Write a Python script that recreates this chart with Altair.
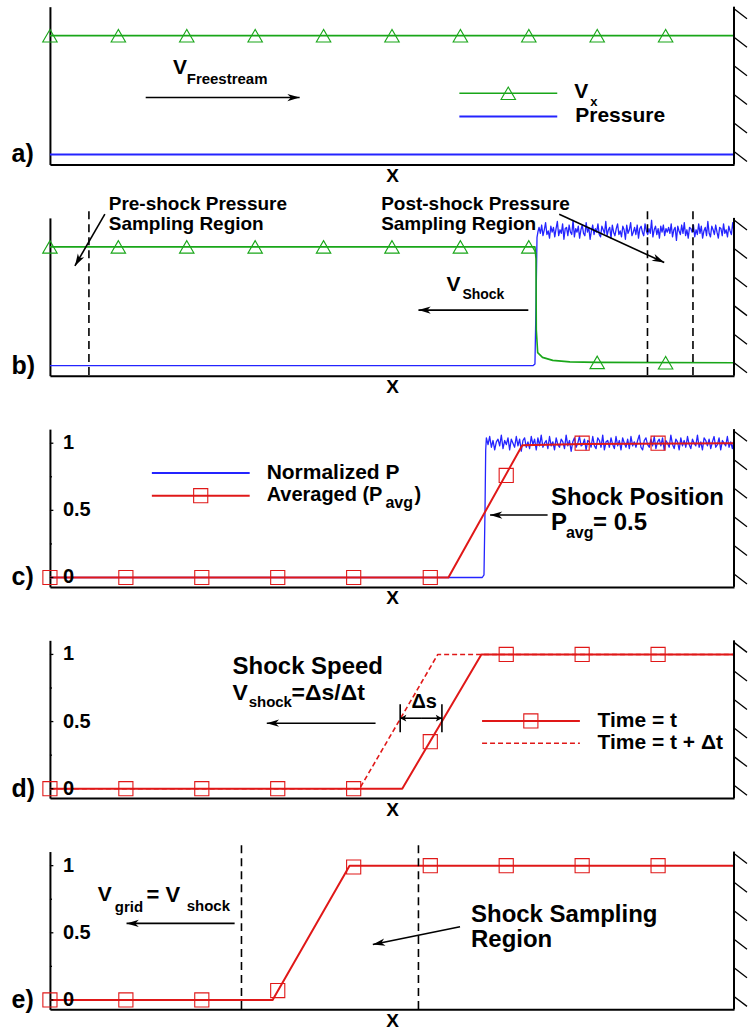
import math
import altair as alt
import pandas as pd
import numpy as np

FONT = "Liberation Sans"
GREEN = "#19a619"
BLUE = "#2424ff"
RED = "#e01818"

W, H = 685, 158
Y_AB = [-0.084, 1.244]      # panels a, b : V_x / pressure
Y_CDE = [-0.07, 1.105]      # panels c, d, e : normalized values

# marker stations along X
tri_x = [0.0, 0.1, 0.2, 0.3, 0.4, 0.5, 0.6, 0.7, 0.8, 0.9]
sq_x = [0.0, 0.111, 0.222, 0.333, 0.444, 0.556, 0.667, 0.778, 0.889]

# ---- a) freestream ----
a_vx_x, a_vx_y = [0.0, 1.0], [1.0, 1.0]
a_p_x, a_p_y = [0.0, 1.0], [0.0, 0.0]
a_tri_y = [1.0] * 10

# ---- b) shock formed at the wall ----
b_vx_x = [0.0, 0.709, 0.7105, 0.711, 0.713, 0.72, 0.735, 0.76, 0.8, 1.0]
b_vx_y = [1.0, 1.0, 0.9, 0.3, 0.11, 0.07, 0.045, 0.032, 0.028, 0.025]
b_tri_y = [1, 1, 1, 1, 1, 1, 1, 1, 0.028, 0.025]
b_p_x = [0.0, 0.706, 0.709, 0.7105, 0.712, 0.7135]
b_p_y = [0.0, 0.0, 0.015, 0.5, 1.08, 1.13]
b_post_level = 1.134
b_post_range = [0.715, 1.0]
# post-shock pressure fluctuation, hundredths
b_noise = [3, -2, 5, -4, 1, 7, -3, 0, -6, 4, -1, 3, -5, 2, 8, -4, 1, -2, 6, -7,
           2, 3, -4, 5, -1, -3, 9, -5, 2, -1, 4, -6, 1, 5, -2, -4, 7, -1, 3, -7,
           0, 5, -3, 2, -1, 6, -3, -5, 4, 1, -2, 8, -4, 1, 3, -6, 5, -1, -4, 2,
           6, -3, 0, -5, 4, 1, -7, 5, -2, 1, 7, -4, -1, 3, -3, 5, -6, 2, 4, -1,
           -4, 6, 0, -3, 2, -2, 9, -5, 1, 4, -3, 2, -6, 4, -1, 5, -4, 2, -1, 3,
           -2, 6, -5, 1, 3, -8, 4, 0, -3, 5, -2, 7, -4, 1, -6, 3, 2, -1, 5, -5,
           1, -3, 6, -2, 4, -6, 0, 3, -4, 8, -2, -5, 4, 1, -3, 5, -1, -6, 3, 2,
           -4, 6, -2, 1, -5, 4, 0, -3, 7, -1]

# ---- c) normalized and averaged pressure ----
c_p_x = [0.0, 0.632, 0.6345, 0.636, 0.637]
c_p_y = [0.0, 0.0, 0.02, 0.5, 0.95]
c_post_level = 1.0
c_post_range = [0.638, 1.0]
c_noise = [4, -1, 5, -3, 2, -5, 1, 3, -2, 6, -4, 2, -1, 4, -5, 3, 0, -3, 5, -2,
           3, -6, 2, 4, -3, 1, -4, 5, -1, 3, -5, 4, -2, 6, -3, 0, 2, -4, 5, -2,
           1, -5, 4, -1, -3, 3, 1, -4, 6, -2, 2, -6, 1, 4, -3, 0, 5, -2, -1, 3,
           -5, 2, 1, -3, 5, -2, -4, 4, 2, -3, 6, -5, 1, 2, -3, 4, -1, -4, 5, -2,
           2, -5, 4, 0, -3, 3, -4, 5, -2, 1, -3, 2, 6, -3, -5, 2, 4, -1, -3, 3,
           -2, 5, -4, 1, 3, -2, 4, -5, 2, 0, -3, 6, -1, -4, 3, 1, -5, 4, -2, 2,
           -3, 5, -1, -4, 3, 0, -2, 6, -3, 1, -5, 4, 2, -2, 3, -4, 1, 5, -3, -1,
           4, -5, 2, 0, -2, 5, -3, 1, -4, 3]
c_avg_x = [0.0, 0.5825, 0.6905, 0.78, 1.0]
c_avg_y = [0.0, 0.0, 0.985, 0.995, 1.0]
c_sq_y = [0, 0, 0, 0, 0, 0, 0.76, 1, 1]

# ---- d) two instants ----
d_t_x = [0.0, 0.515, 0.6307, 1.0]
d_t_y = [0.0, 0.0, 1.0, 1.0]
d_dt_x = [0.0, 0.4526, 0.567, 1.0]
d_dt_y = [0.0, 0.0, 1.0, 1.0]
d_sq_y = [0, 0, 0, 0, 0, 0.35, 1, 1, 1]

# ---- e) moving grid ----
e_x = [0.0, 0.3255, 0.438, 1.0]
e_y = [0.0, 0.0, 1.0, 1.0]
e_sq_y = [0, 0, 0, 0.07, 0.99, 1, 1, 1, 1]

tick_major = [0.0, 0.5, 1.0]
tick_labels = ["0", "0.5", "1"]
tick_minor = [0.25, 0.75]
hatch_frac = [0.013, 0.194, 0.375, 0.556, 0.737, 0.918]

HEAD = "M0,0L-1,-0.3L-0.72,0L-1,0.3Z"
SMALL_HEAD = "M0,0L-1,-0.55L-0.75,0L-1,0.55Z"

X_AXIS = alt.Axis(title="X", ticks=False, labels=False, grid=False,
                  domainColor="black", domainWidth=2, titleFont=FONT,
                  titleFontSize=19, titleFontWeight="bold", titleColor="black",
                  titlePadding=2)
Y_AXIS = alt.Axis(title=None, ticks=False, labels=False, grid=False,
                  domainColor="black", domainWidth=2)


def xe(field="x"):
    return alt.X(f"{field}:Q", scale=alt.Scale(domain=[0, 1], nice=False, zero=False), axis=X_AXIS)


def ye(dom, field="y"):
    return alt.Y(f"{field}:Q", scale=alt.Scale(domain=dom, nice=False, zero=False), axis=Y_AXIS)


def line(xs, ys, dom, color, width, dash=None):
    kw = dict(color=color, strokeWidth=width, strokeJoin="round")
    if dash:
        kw["strokeDash"] = dash
    df = pd.DataFrame({"x": xs, "y": ys})
    return alt.Chart(df).mark_line(**kw).encode(x=xe(), y=ye(dom))


def markers(xs, ys, dom, shape, color, size):
    df = pd.DataFrame({"x": xs, "y": ys})
    return alt.Chart(df).mark_point(shape=shape, filled=False, color=color, size=size,
                                    strokeWidth=1.1, opacity=1).encode(x=xe(), y=ye(dom))


def segments(rows, dom, color="black", width=1.6, dash=None):
    kw = dict(color=color, strokeWidth=width)
    if dash:
        kw["strokeDash"] = dash
    df = pd.DataFrame(rows, columns=["x", "y", "x2", "y2"])
    return alt.Chart(df).mark_rule(**kw).encode(x=xe(), y=ye(dom), x2="x2:Q", y2="y2:Q")


def arrows(rows, dom, shape=HEAD, size=600, width=1.6):
    """rows: (x_from, y_from, x_to, y_to); head drawn at the 'to' end."""
    ppu = H / (dom[1] - dom[0])
    heads = []
    for x1, y1, x2, y2 in rows:
        ang = math.degrees(math.atan2(-(y2 - y1) * ppu, (x2 - x1) * W)) % 360
        heads.append({"x": x2, "y": y2, "angle": ang})
    shaft = segments(rows, dom, width=width)
    hd = alt.Chart(pd.DataFrame(heads)).mark_point(
        shape=shape, filled=True, color="black", size=size, opacity=1, strokeWidth=0
    ).encode(x=xe(), y=ye(dom), angle=alt.Angle("angle:Q", scale=None))
    return [shaft, hd]


def texts(rows, dom):
    df = pd.DataFrame(rows, columns=["t", "x", "y", "s"])
    return alt.Chart(df).mark_text(align="left", baseline="middle", font=FONT,
                                   fontWeight="bold", color="black").encode(
        x=xe(), y=ye(dom), text="t:N", size=alt.Size("s:Q", scale=None))


def wall(dom):
    ppu = H / (dom[1] - dom[0])
    rows = [(1.0, dom[0], 1.0, dom[1])]
    for f in hatch_frac:
        y0 = dom[1] - f * (dom[1] - dom[0])
        rows.append((1.0, y0, 1.0 + 13 / W, y0 - 10 / ppu))
    return [segments(rows[:1], dom, width=2), segments(rows[1:], dom, width=1.3)]


def ticks(dom):
    rows = [(0.0, v, 0.005, v) for v in tick_major] + [(0.0, v, 0.003, v) for v in tick_minor]
    lab = [(t, 0.019, v, 20) for t, v in zip(tick_labels, tick_major)]
    return [segments(rows, dom, width=1.3), texts(lab, dom)]


def noisy(level, rng, noise):
    xs = np.linspace(rng[0], rng[1], len(noise))
    ys = [level + n / 100 for n in noise]
    return list(xs), ys


def panel(layers):
    return alt.layer(*layers).properties(width=W, height=H)


# ---------------- a ----------------
dA = Y_AB
pa = panel([
    line(a_p_x, a_p_y, dA, BLUE, 2),
    line(a_vx_x, a_vx_y, dA, GREEN, 1.6),
    markers(tri_x, a_tri_y, dA, "triangle-up", GREEN, 210),
    segments([(0.5985, 0.515, 0.7416, 0.515)], dA, color=GREEN, width=1.6),
    segments([(0.5985, 0.319, 0.7416, 0.319)], dA, color=BLUE, width=2),
    markers([0.67], [0.515], dA, "triangle-up", GREEN, 210),
    *arrows([(0.14, 0.479, 0.365, 0.479)], dA),
    texts([("V", 0.18, 0.725, 21), ("Freestream", 0.2, 0.634, 15),
           ("V", 0.7664, 0.53, 21), ("x", 0.79, 0.445, 13),
           ("Pressure", 0.768, 0.325, 21), ("a)", -0.056, 0.0, 25)], dA),
    *wall(dA),
])

# ---------------- b ----------------
dB = Y_AB
bx, by = noisy(b_post_level, b_post_range, b_noise)
pb = panel([
    line(b_p_x + bx, b_p_y + by, dB, BLUE, 1.3),
    line(b_vx_x, b_vx_y, dB, GREEN, 1.6),
    markers(tri_x, b_tri_y, dB, "triangle-up", GREEN, 210),
    segments([(x, 1.30, x, dB[0]) for x in [0.057, 0.8735, 0.94]], dB, width=1.6, dash=[8, 5]),
    *arrows([(0.0803, 1.275, 0.0365, 0.84), (0.7445, 1.275, 0.898, 0.868),
             (0.6993, 0.468, 0.5387, 0.468)], dB),
    texts([("Pre-shock Pressure", 0.086, 1.365, 19), ("Sampling Region", 0.086, 1.196, 19),
           ("Post-shock Pressure", 0.4842, 1.365, 19), ("Sampling Region", 0.4842, 1.196, 19),
           ("V", 0.5796, 0.68, 21), ("Shock", 0.603, 0.597, 14),
           ("b)", -0.056, 0.0, 25)], dB),
    *wall(dB),
])

# ---------------- c ----------------
dC = Y_CDE
cx, cy = noisy(c_post_level, c_post_range, c_noise)
pc = panel([
    line(c_p_x + cx, c_p_y + cy, dC, BLUE, 1.3),
    line(c_avg_x, c_avg_y, dC, RED, 2),
    markers(sq_x, c_sq_y, dC, "square", RED, 200),
    segments([(0.149, 0.778, 0.292, 0.778)], dC, color=BLUE, width=2),
    segments([(0.149, 0.609, 0.292, 0.609)], dC, color=RED, width=2),
    markers([0.2204], [0.609], dC, "square", RED, 200),
    *arrows([(0.7275, 0.465, 0.6434, 0.465)], dC),
    texts([("Normalized P", 0.3168, 0.778, 21), ("Averaged (P", 0.3168, 0.616, 20),
           ("avg", 0.4905, 0.555, 16), (")", 0.5328, 0.616, 20),
           ("Shock Position", 0.7324, 0.592, 24), ("P", 0.7324, 0.406, 24),
           ("avg", 0.7543, 0.332, 16), ("= 0.5", 0.794, 0.406, 24),
           ("c)", -0.056, 0.0, 25)], dC),
    *ticks(dC),
    *wall(dC),
])

# ---------------- d ----------------
dD = Y_CDE
pd_ = panel([
    line(d_dt_x, d_dt_y, dD, RED, 1.6, dash=[5, 3]),
    line(d_t_x, d_t_y, dD, RED, 2),
    markers(sq_x, d_sq_y, dD, "square", RED, 200),
    segments([(0.512, 0.421, 0.512, 0.629), (0.573, 0.421, 0.573, 0.629)], dD, width=1.6),
    *arrows([(0.5425, 0.525, 0.512, 0.525), (0.5425, 0.525, 0.573, 0.525)], dD,
            shape=SMALL_HEAD, size=150, width=1.6),
    segments([(0.6317, 0.505, 0.7747, 0.505)], dD, color=RED, width=2),
    segments([(0.6317, 0.339, 0.7747, 0.339)], dD, color=RED, width=1.6, dash=[5, 3]),
    markers([0.703], [0.505], dD, "square", RED, 200),
    *arrows([(0.476, 0.488, 0.317, 0.488)], dD),
    texts([("Shock Speed", 0.267, 0.908, 24), ("V", 0.267, 0.711, 23),
           ("shock", 0.2905, 0.644, 15), ("=\u0394s/\u0394t", 0.3533, 0.711, 23),
           ("\u0394s", 0.5285, 0.644, 20),
           ("Time = t", 0.8005, 0.503, 21), ("Time = t + \u0394t", 0.8005, 0.339, 21),
           ("d)", -0.056, 0.0, 25)], dD),
    *ticks(dD),
    *wall(dD),
])

# ---------------- e ----------------
dE = Y_CDE
pe = panel([
    line(e_x, e_y, dE, RED, 2),
    markers(sq_x, e_sq_y, dE, "square", RED, 200),
    segments([(x, 1.152, x, dE[0]) for x in [0.28, 0.5387]], dE, width=1.6, dash=[8, 5]),
    *arrows([(0.27, 0.57, 0.112, 0.57), (0.5995, 0.545, 0.472, 0.413)], dE),
    texts([("V", 0.07, 0.785, 21), ("grid", 0.0949, 0.689, 15),
           ("= V", 0.1412, 0.785, 22), ("shock", 0.2, 0.696, 15),
           ("Shock Sampling", 0.6156, 0.631, 24), ("Region", 0.6156, 0.443, 24),
           ("e)", -0.056, 0.0, 25)], dE),
    *ticks(dE),
    *wall(dE),
])

chart = alt.vconcat(pa, pb, pc, pd_, pe, spacing=53.5, bounds="flush").properties(
    padding={"left": 11, "right": 0, "top": 5, "bottom": 0}
).configure_view(stroke=None)

chart.save("out.html", embed_options={"renderer": "svg", "actions": False})
